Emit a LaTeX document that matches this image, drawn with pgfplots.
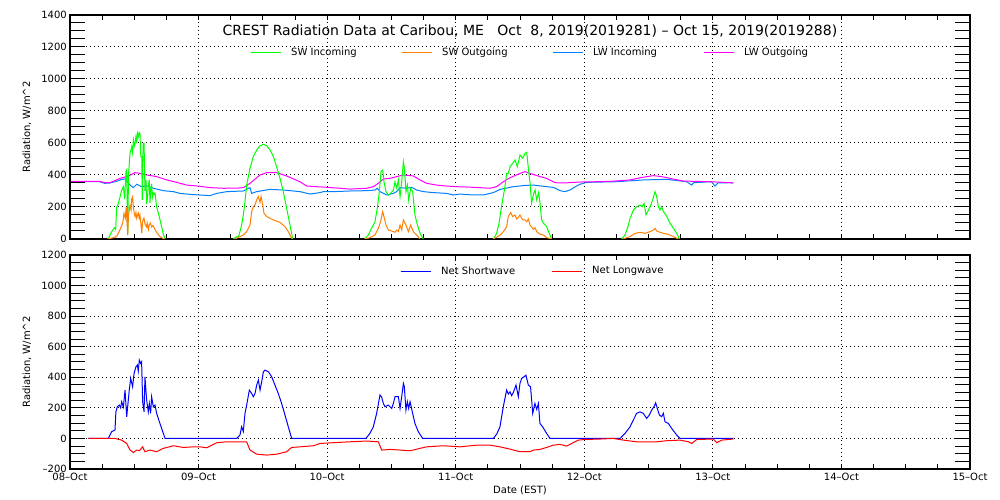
\documentclass[border=0pt]{standalone}
\usepackage{fontspec}
\setmainfont{DejaVu Sans}
\usepackage{pgfplots}
\pgfplotsset{compat=1.18}
\definecolor{swin}{RGB}{0,255,0}
\definecolor{swout}{RGB}{255,127,0}
\definecolor{lwin}{RGB}{0,128,255}
\definecolor{lwout}{RGB}{255,0,255}
\definecolor{netsw}{RGB}{0,0,255}
\definecolor{netlw}{RGB}{255,0,0}
\pgfplotsset{
  panel/.style={scale only axis, width=900pt, xmin=0, xmax=7,
    xtick={0,1,2,3,4,5,6,7}, minor x tick num=3,
    major tick length=5pt, minor tick length=5pt,
    tick align=inside,
    every tick/.style={black, line width=1pt},
    ytick style={draw=none},
    axis line style={black, line width=1.2pt},
    grid=major,
    major grid style={black, line width=1pt, dash pattern=on 1pt off 3pt},
    tick label style={font=\fontsize{10}{12}\selectfont},
    yticklabel style={anchor=east, inner sep=0pt, xshift=-3pt},
    xticklabel style={anchor=north, inner sep=0pt, yshift=-4pt},
    label style={font=\fontsize{10}{12}\selectfont},
    ylabel style={at={(axis description cs:-0.0478,0.5)}, anchor=center},
    unbounded coords=jump,
    legend image code/.code={\draw[#1, line width=1pt] (0pt,0pt) -- (30pt,0pt);},
    legend style={draw=none, fill=none, inner sep=0pt, column sep=0pt,
      font=\fontsize{10}{12}\selectfont, nodes={inner sep=0pt}},
    legend columns=4,
  },
  yticks/.style={scale only axis, width=900pt, xmin=0, xmax=7, hide x axis,
    minor y tick num=3, major tick length=15pt, minor tick length=15pt,
    tick align=inside, every tick/.style={black, line width=1pt},
    axis line style={black, line width=1.2pt}, yticklabels={}},
}
\begin{document}
\begin{tikzpicture}
\path[use as bounding box] (0pt,0pt) rectangle (1000pt,500pt);
% ---------------- top panel
\begin{axis}[panel, at={(70pt,261pt)}, anchor=south west, height=224pt,
  ymin=0, ymax=1400, ytick={0,200,400,600,800,1000,1200,1400},
  yticklabels={0,200,400,600,800,1000,1200,1400}, xticklabels={},
  ylabel={Radiation, W/m\textasciicircum 2},
  legend style={at={(0.2,0.832)}, anchor=west}]
\addlegendimage{swin}\addlegendentry{\hspace*{10pt}\makebox[110pt][l]{SW Incoming}}
\addlegendimage{swout}\addlegendentry{\hspace*{10pt}\makebox[110pt][l]{SW Outgoing}}
\addlegendimage{lwin}\addlegendentry{\hspace*{10pt}\makebox[110pt][l]{LW Incoming}}
\addlegendimage{lwout}\addlegendentry{\hspace*{10pt}\makebox[110pt][l]{LW Outgoing}}
% LW incoming
\addplot[lwin, line width=1pt, forget plot] coordinates {
(0,358)(0.23,358)(0.27,348)(0.31,350)(0.36,360)(0.40,372)(0.43,375)(0.467,337)(0.493,321)(0.519,342)(0.557,327)(0.596,333)(0.648,317)(0.726,302)(0.804,296)(0.856,285)(0.933,279)(1.006,275)(1.089,271)(1.141,285)(1.219,296)(1.348,300)(1.400,321)(1.413,285)(1.452,296)(1.556,310)(1.659,306)(1.789,296)(1.867,281)(1.945,290)(1.971,296)(2.048,296)(2.178,300)(2.307,302)(2.372,306)(2.390,317)(2.411,296)(2.463,275)(2.515,285)(2.541,296)(2.567,321)(2.619,317)(2.658,323)(2.696,306)(2.748,296)(2.826,290)(2.930,285)(2.981,275)(3.033,281)(3.137,275)(3.215,275)(3.293,290)(3.345,310)(3.448,327)(3.539,335)(3.604,337)(3.708,327)(3.759,323)(3.811,302)(3.85,296)(3.889,306)(3.93,327)(3.967,342)(4.018,354)(4.251,358)(4.459,369)(4.640,373)(4.796,358)(4.835,337)(4.85,352)(4.99,358)(5.016,331)(5.04,350)(5.133,352)(5.159,350)
};
% LW outgoing
\addplot[lwout, line width=1pt, forget plot] coordinates {
(0,360)(0.23,360)(0.27,352)(0.31,352)(0.35,365)(0.389,379)(0.441,390)(0.47,400)(0.506,415)(0.544,410)(0.596,400)(0.674,390)(0.752,369)(0.830,354)(0.907,337)(1.006,330)(1.089,321)(1.193,317)(1.30,318)(1.348,321)(1.400,348)(1.478,400)(1.530,415)(1.607,415)(1.685,394)(1.789,358)(1.841,331)(1.918,327)(2.001,323)(2.100,317)(2.178,312)(2.307,317)(2.359,327)(2.398,348)(2.437,375)(2.489,379)(2.541,390)(2.593,400)(2.671,394)(2.722,369)(2.774,348)(2.852,337)(2.930,331)(3.007,327)(3.137,323)(3.267,317)(3.318,327)(3.370,358)(3.422,383)(3.500,410)(3.539,421)(3.578,410)(3.656,390)(3.707,379)(3.772,352)(3.837,350)(3.966,356)(4.096,358)(4.20,360)(4.355,369)(4.45,385)(4.537,396)(4.60,390)(4.667,379)(4.770,362)(4.977,358)(5.133,352)(5.159,350)
};
% SW incoming
\addplot[swin, line width=1pt, forget plot] coordinates {
(0.298,0)(0.32,40)(0.345,70)(0.355,60)(0.363,200)(0.375,220)(0.389,262)(0.40,300)(0.415,327)(0.425,250)(0.435,420)(0.441,431)(0.449,30)(0.455,400)(0.467,537)(0.475,560)(0.480,577)(0.487,540)(0.493,619)(0.50,580)(0.506,600)(0.513,640)(0.519,600)(0.525,660)(0.531,640)(0.538,665)(0.544,660)(0.551,515)(0.558,515)(0.562,244)(0.565,460)(0.570,598)(0.576,598)(0.583,300)(0.591,369)(0.596,220)(0.601,244)(0.609,330)(0.617,369)(0.622,225)(0.628,300)(0.635,345)(0.641,260)(0.648,287)(0.654,280)(0.661,287)(0.674,200)(0.687,162)(0.70,120)(0.713,75)(0.726,30)(0.739,0)
(0.74,nan)
(1.270,0)(1.296,15)(1.310,10)(1.322,46)(1.335,87)(1.348,150)(1.361,233)(1.374,337)(1.400,442)(1.426,515)(1.452,556)(1.478,583)(1.504,592)(1.530,583)(1.556,556)(1.582,515)(1.607,452)(1.633,379)(1.659,296)(1.685,192)(1.711,87)(1.732,0)
(1.74,nan)
(2.294,0)(2.320,25)(2.346,67)(2.372,108)(2.390,192)(2.406,296)(2.419,421)(2.432,431)(2.442,358)(2.458,296)(2.476,275)(2.494,285)(2.515,306)(2.528,358)(2.541,317)(2.554,369)(2.567,265)(2.580,358)(2.593,483)(2.601,442)(2.613,296)(2.624,337)(2.634,244)(2.650,317)(2.665,296)(2.683,150)(2.702,87)(2.723,35)(2.748,0)
(2.75,nan)
(3.293,0)(3.318,35)(3.337,98)(3.352,181)(3.365,244)(3.383,327)(3.396,410)(3.409,410)(3.422,452)(3.443,473)(3.461,494)(3.479,452)(3.500,525)(3.521,504)(3.539,535)(3.552,542)(3.565,442)(3.578,350)(3.590,225)(3.605,280)(3.617,306)(3.630,244)(3.645,290)(3.655,230)(3.668,119)(3.682,100)(3.707,77)(3.746,0)
(3.75,nan)
(4.291,0)(4.317,25)(4.343,87)(4.356,129)(4.382,181)(4.408,202)(4.434,212)(4.450,202)(4.465,223)(4.480,150)(4.499,181)(4.517,212)(4.532,244)(4.550,296)(4.563,265)(4.576,202)(4.589,181)(4.602,202)(4.615,171)(4.636,150)(4.667,98)(4.693,67)(4.719,35)(4.740,0)
};
% SW outgoing
\addplot[swout, line width=1pt, forget plot] coordinates {
(0.29,0)(0.35,10)(0.37,25)(0.39,60)(0.41,100)(0.42,160)(0.43,130)(0.437,200)(0.449,25)(0.455,150)(0.467,210)(0.475,180)(0.48,250)(0.487,264)(0.493,200)(0.50,160)(0.506,140)(0.513,165)(0.519,130)(0.525,150)(0.531,162)(0.538,130)(0.544,150)(0.551,100)(0.558,37)(0.565,110)(0.575,131)(0.585,90)(0.596,75)(0.60,100)(0.61,60)(0.617,90)(0.625,100)(0.635,75)(0.645,85)(0.661,60)(0.675,40)(0.69,25)(0.70,15)(0.72,5)(0.74,0)
(0.75,nan)
(1.283,0)(1.322,15)(1.348,25)(1.374,46)(1.400,87)(1.413,171)(1.426,202)(1.439,212)(1.452,244)(1.465,265)(1.478,230)(1.486,265)(1.499,212)(1.509,160)(1.530,140)(1.582,119)(1.633,104)(1.672,77)(1.698,46)(1.724,4)(1.730,0)
(1.74,nan)
(2.29,0)(2.333,8)(2.372,25)(2.398,67)(2.416,108)(2.432,171)(2.442,140)(2.458,87)(2.476,56)(2.502,50)(2.528,42)(2.541,56)(2.554,46)(2.567,87)(2.580,56)(2.593,119)(2.613,87)(2.632,46)(2.650,87)(2.671,46)(2.696,25)(2.722,0)
(2.73,nan)
(3.29,0)(3.34,20)(3.375,50)(3.396,77)(3.409,140)(3.427,165)(3.443,140)(3.461,150)(3.475,125)(3.487,135)(3.50,150)(3.513,130)(3.525,120)(3.539,119)(3.552,108)(3.565,125)(3.578,87)(3.604,60)(3.617,70)(3.630,46)(3.656,30)(3.682,25)(3.708,8)(3.746,0)
(3.75,nan)
(4.30,0)(4.356,15)(4.395,35)(4.434,42)(4.473,35)(4.512,46)(4.537,56)(4.550,67)(4.563,50)(4.589,42)(4.615,35)(4.654,29)(4.693,15)(4.732,0)
};
\node[font=\fontsize{14}{16}\selectfont] at (axis description cs:0.511,0.930)
  {CREST Radiation Data at Caribou, ME\ \ \ Oct\ \ 8, 2019(2019281) -- Oct 15, 2019(2019288)};
\end{axis}
\begin{axis}[yticks, at={(70pt,261pt)}, anchor=south west, height=224pt,
  ymin=0, ymax=1400, ytick={0,200,400,600,800,1000,1200,1400}]
\end{axis}
% ---------------- bottom panel
\begin{axis}[panel, at={(70pt,31pt)}, anchor=south west, height=214pt,
  ymin=-200, ymax=1200, ytick={-200,0,200,400,600,800,1000,1200},
  yticklabels={--200,0,200,400,600,800,1000,1200},
  xticklabels={08--Oct,09--Oct,10--Oct,11--Oct,12--Oct,13--Oct,14--Oct,15--Oct},
  ylabel={Radiation, W/m\textasciicircum 2},
  xlabel={Date (EST)},
  xlabel style={at={(axis description cs:0.5,-0.098)}, anchor=center},
  legend style={at={(0.3667,0.925)}, anchor=west}]
\addlegendimage{netsw}\addlegendentry{\hspace*{10pt}\makebox[110pt][l]{Net Shortwave}}
\addlegendimage{netlw}\addlegendentry{\hspace*{10pt}\makebox[110pt][l]{Net Longwave}}
\addplot[netsw, line width=1pt, forget plot] coordinates {
(0.143,0)(0.298,0)(0.324,44)(0.350,55)(0.357,174)(0.368,207)(0.383,218)(0.394,200)(0.402,240)(0.415,205)(0.428,316)(0.441,142)(0.461,316)(0.472,393)(0.487,338)(0.498,425)(0.513,469)(0.524,480)(0.531,440)(0.539,513)(0.549,491)(0.557,502)(0.565,240)(0.576,174)(0.583,403)(0.596,251)(0.609,174)(0.617,229)(0.627,164)(0.635,273)(0.648,207)(0.661,218)(0.674,164)(0.695,109)(0.713,65)(0.739,0)
(1.296,0)(1.322,22)(1.335,76)(1.348,45)(1.361,164)(1.374,218)(1.395,316)(1.413,294)(1.426,273)(1.439,294)(1.452,349)(1.465,382)(1.478,316)(1.491,371)(1.504,436)(1.517,447)(1.543,436)(1.569,403)(1.594,349)(1.620,294)(1.646,229)(1.672,153)(1.698,76)(1.724,0)
(2.302,0)(2.333,33)(2.359,76)(2.385,164)(2.411,284)(2.424,270)(2.437,229)(2.450,207)(2.476,218)(2.502,196)(2.515,229)(2.528,273)(2.554,273)(2.567,196)(2.580,273)(2.593,360)(2.600,340)(2.613,185)(2.624,240)(2.634,196)(2.645,240)(2.665,164)(2.683,98)(2.709,44)(2.743,0)
(3.293,0)(3.320,30)(3.344,76)(3.370,207)(3.396,316)(3.409,290)(3.422,305)(3.435,280)(3.448,300)(3.469,349)(3.487,273)(3.500,360)(3.513,393)(3.531,403)(3.546,414)(3.565,349)(3.582,338)(3.599,164)(3.616,229)(3.630,190)(3.643,229)(3.655,98)(3.676,76)(3.707,33)(3.733,0)
(4.278,0)(4.317,33)(4.356,76)(4.381,120)(4.407,164)(4.433,174)(4.459,164)(4.485,131)(4.506,153)(4.524,185)(4.542,207)(4.555,233)(4.568,196)(4.584,153)(4.602,142)(4.615,164)(4.628,109)(4.654,98)(4.680,65)(4.719,22)(4.745,0)(5.159,0)
};
\addplot[netlw, line width=1pt, forget plot] coordinates {
(0.143,0)(0.350,0)(0.402,-11)(0.441,-33)(0.467,-76)(0.493,-92)(0.519,-76)(0.540,-80)(0.565,-55)(0.583,-87)(0.622,-76)(0.674,-87)(0.726,-65)(0.804,-48)(0.881,-59)(0.959,-55)(1.011,-55)(1.063,-61)(1.141,-28)(1.219,-22)(1.374,-22)(1.400,-76)(1.452,-103)(1.530,-109)(1.608,-103)(1.685,-87)(1.724,-59)(1.789,-55)(1.893,-48)(1.945,-33)(2.048,-28)(2.178,-22)(2.307,-17)(2.398,-22)(2.424,-76)(2.489,-72)(2.567,-76)(2.645,-81)(2.722,-65)(2.774,-55)(2.904,-48)(3.034,-55)(3.164,-44)(3.267,-44)(3.344,-55)(3.422,-70)(3.500,-87)(3.578,-87)(3.604,-76)(3.655,-72)(3.707,-59)(3.759,-44)(3.811,-39)(3.863,-50)(3.902,-33)(3.953,-11)(4.000,-7)(4.122,-4)(4.226,0)(4.304,-11)(4.407,-22)(4.563,-22)(4.641,-15)(4.745,-11)(4.810,-22)(4.836,-33)(4.874,-7)(5.004,-4)(5.030,-28)(5.068,-11)(5.159,-4)
};
\end{axis}
\begin{axis}[yticks, at={(70pt,31pt)}, anchor=south west, height=214pt,
  ymin=-200, ymax=1200, ytick={-200,0,200,400,600,800,1000,1200}]
\end{axis}
\end{tikzpicture}
\end{document}
